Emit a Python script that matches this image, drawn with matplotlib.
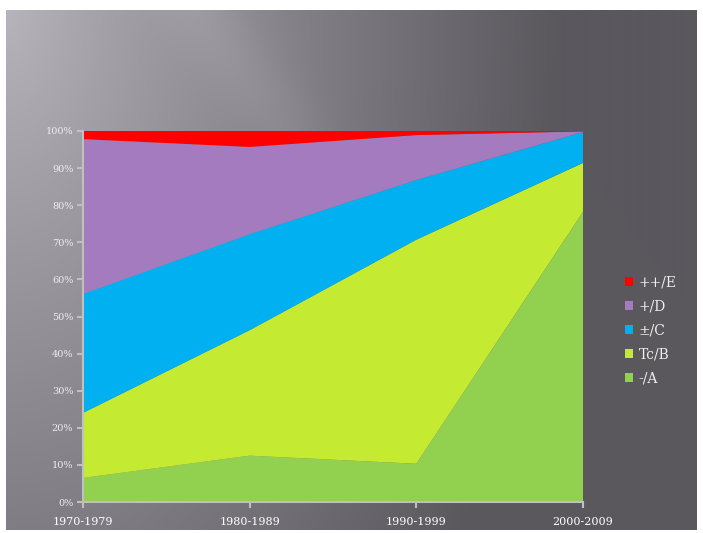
import numpy as np
import matplotlib
matplotlib.use("Agg")
import matplotlib.pyplot as plt

categories = ["1970-1979", "1980-1989", "1990-1999", "2000-2009"]
series_names = ["-/A", "Tc/B", "±/C", "+/D", "++/E"]
# values in percent (each decade sums to 100)
A = [6.5, 12.5, 10.3, 78.2]
B = [17.5, 33.8, 60.4, 13.2]
C = [32.1, 25.9, 16.1, 8.3]
D = [41.7, 23.5, 12.1, 0.2]
E = [2.2, 4.3, 1.1, 0.1]
yticks = [0, 10, 20, 30, 40, 50, 60, 70, 80, 90, 100]
colors = ["#92D050", "#C5EA32", "#00B0F0", "#A47BBE", "#FF0000"]

W, H = 703, 533
fig = plt.figure(figsize=(W / 100, H / 100), dpi=100)
fig.patch.set_facecolor("white")

# background gradient panel
bg = fig.add_axes([6 / W, 1 - 530 / H, (697 - 6) / W, (530 - 10) / H])
ny, nx = 260, 345
yy, xx = np.mgrid[0:ny, 0:nx]
xn = xx / nx
yn = yy / ny
d = np.sqrt((xn * 1.0) ** 2 + (yn * 0.45) ** 2)
t = np.clip(d / 0.8, 0, 1) ** 0.9
light = np.array([184, 180, 188]) / 255
dark = np.array([90, 87, 93]) / 255
img = light[None, None, :] * (1 - t[..., None]) + dark[None, None, :] * t[..., None]
# soft diagonal streak
s = (xn * 0.9 - yn * 0.5)
streak = np.exp(-((s - 0.25) / 0.06) ** 2) * 0.04 * (1 - yn)
img = np.clip(img + streak[..., None], 0, 1)
bg.imshow(img, aspect="auto", extent=[0, 1, 0, 1], origin="upper", interpolation="bilinear")
bg.set_axis_off()

ax = fig.add_axes([83 / W, 1 - 502 / H, 500 / W, 371 / H])
ax.set_facecolor("none")
x = np.arange(len(categories))
ax.stackplot(x, A, B, C, D, E, colors=colors, labels=series_names, linewidth=0)
ax.set_xlim(0, len(categories) - 1)
ax.set_ylim(0, 100)
ax.set_yticks(yticks)
ax.set_yticklabels([f"{v}%" for v in yticks])
ax.set_xticks(x)
ax.set_xticklabels(categories)
for sp in ["top", "right"]:
    ax.spines[sp].set_visible(False)
for sp in ["left", "bottom"]:
    ax.spines[sp].set_color("#C0C0C0")
    ax.spines[sp].set_linewidth(1.5)
ax.tick_params(axis="y", direction="out", length=4, width=1.5, color="#C0C0C0",
               labelcolor="#EEEEEE", labelsize=7, pad=3)
ax.tick_params(axis="x", direction="out", length=4, width=1.5, color="#C0C0C0",
               labelcolor="#FFFFFF", labelsize=8, pad=7)
for lab in ax.get_yticklabels() + ax.get_xticklabels():
    lab.set_family("DejaVu Serif")

handles, labels = ax.get_legend_handles_labels()
leg = fig.legend(handles[::-1], labels[::-1], loc="center left",
                 bbox_to_anchor=(612 / W, 1 - 330 / H), frameon=False,
                 handlelength=0.6, handleheight=0.6, handletextpad=0.4,
                 labelspacing=0.72, prop={"family": "DejaVu Serif", "size": 10})
for t_ in leg.get_texts():
    t_.set_color("#EEEEEE")

fig.savefig("out.png", dpi=100, facecolor="white")
